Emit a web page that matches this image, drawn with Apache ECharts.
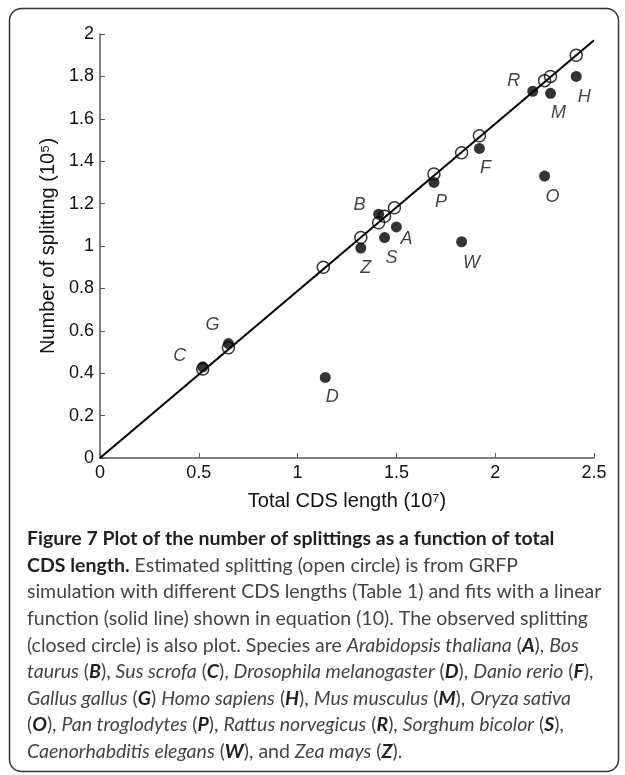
<!DOCTYPE html>
<html>
<head>
<meta charset="utf-8">
<script src="https://cdn.jsdelivr.net/npm/echarts@6/dist/echarts.min.js"></script>
<style>
html,body{margin:0;padding:0;background:#fff;}
#chart{width:625px;height:775px;}
</style>
</head>
<body>
<div id="chart"></div>
<script>
// ---- data ----
var speciesLetters = ['A','B','C','D','F','G','H','M','O','P','R','S','W','Z'];
var observedX = [1.50, 1.41, 0.52, 1.14, 1.92, 0.65, 2.41, 2.28, 2.25, 1.69, 2.19, 1.44, 1.83, 1.32];
var observedY = [1.09, 1.15, 0.43, 0.38, 1.46, 0.54, 1.80, 1.72, 1.33, 1.30, 1.73, 1.04, 1.02, 0.99];
var estimatedX = [0.52, 0.65, 1.13, 1.32, 1.41, 1.44, 1.49, 1.69, 1.83, 1.92, 2.25, 2.28, 2.41];
var estimatedY = [0.42, 0.52, 0.90, 1.04, 1.11, 1.14, 1.18, 1.34, 1.44, 1.52, 1.78, 1.80, 1.90];
var fitX = [0, 2.5];
var fitY = [0, 1.97];
var xTicks = [0, 0.5, 1, 1.5, 2, 2.5];
var yTicks = [0, 0.2, 0.4, 0.6, 0.8, 1, 1.2, 1.4, 1.6, 1.8, 2];

// label placement (style, px offsets from point)
var labelOffsets = {
  A:[10,12], B:[-19,-9], C:[-23,-11], D:[7,20], F:[6,20], G:[-16,-19], H:[8,21],
  M:[8,20], O:[8,21], P:[7,20], R:[-19,-10], S:[7,20], W:[10,21], Z:[5,20]
};

var chartFont = '"Liberation Sans", Arial, sans-serif';
var capFont = 'Lato, "Open Sans", sans-serif';

var obsData = speciesLetters.map(function(l, i){
  return {name:l, value:[observedX[i], observedY[i]], label:{offset:labelOffsets[l]}};
});
var estData = estimatedX.map(function(x, i){ return [x, estimatedY[i]]; });
var fitData = fitX.map(function(x, i){ return [x, fitY[i]]; });

var capLines = [
  '{b|Figure 7 Plot of the number of splittings as a function of total}',
  '{b|CDS length.} Estimated splitting (open circle) is from GRFP',
  'simulation with different CDS lengths (Table 1) and fits with a linear',
  'function (solid line) shown in equation (10). The observed splitting',
  '(closed circle) is also plot. Species are {i|Arabidopsis thaliana} ({bi|A}), {i|Bos}',
  '{i|taurus} ({bi|B}), {i|Sus scrofa} ({bi|C}), {i|Drosophila melanogaster} ({bi|D}), {i|Danio rerio} ({bi|F}),',
  '{i|Gallus gallus} ({bi|G}) {i|Homo sapiens} ({bi|H}), {i|Mus musculus} ({bi|M}), {i|Oryza sativa}',
  '({bi|O}), {i|Pan troglodytes} ({bi|P}), {i|Rattus norvegicus} ({bi|R}), {i|Sorghum bicolor} ({bi|S}),',
  '{i|Caenorhabditis elegans} ({bi|W}), and {i|Zea mays} ({bi|Z}).'
];
var capSize = 19.5;
var capRich = {
  b:{fontFamily:capFont, fontSize:capSize, fontWeight:'bold', fill:'#231f20'},
  i:{fontFamily:capFont, fontSize:capSize, fontStyle:'italic', fill:'#444'},
  bi:{fontFamily:capFont, fontSize:capSize, fontWeight:'bold', fontStyle:'italic', fill:'#231f20'}
};
var graphics = [{
  type:'rect', shape:{x:9.5, y:8.5, width:609, height:763, r:12},
  style:{fill:'none', stroke:'#333', lineWidth:1.5}, z:-1
}];
capLines.forEach(function(t, i){
  graphics.push({
    type:'text', left:27, top:529 + i*26.6,
    style:{text:t, rich:capRich, fontFamily:capFont, fontSize:capSize, fill:'#444'}
  });
});

var chart = echarts.init(document.getElementById('chart'), null, {renderer:'canvas'});
chart.setOption({
  animation:false,
  backgroundColor:'#fff',
  grid:{left:100, right:31, top:34, bottom:317, containLabel:false},
  xAxis:{
    type:'value', min:0, max:2.5, interval:0.5,
    name:'Total CDS length (10\u2077)', nameLocation:'middle', nameGap:33,
    nameTextStyle:{fontFamily:chartFont, fontSize:20, color:'#111'},
    axisLine:{lineStyle:{color:'#555', width:1.5}},
    axisTick:{inside:true, length:5, lineStyle:{color:'#555'}},
    axisLabel:{fontFamily:chartFont, fontSize:18, color:'#111', margin:6,
      formatter:function(v){ return xTicks.indexOf(v) >= 0 ? String(v) : ''; }},
    splitLine:{show:false}
  },
  yAxis:{
    type:'value', min:0, max:2, interval:0.2,
    name:'Number of splitting (10\u2075)', nameLocation:'middle', nameGap:38, nameRotate:90,
    nameTextStyle:{fontFamily:chartFont, fontSize:20, color:'#111'},
    axisLine:{show:true, lineStyle:{color:'#555', width:1.5}},
    axisTick:{show:true, inside:true, length:5, lineStyle:{color:'#555'}},
    axisLabel:{fontFamily:chartFont, fontSize:18, color:'#111', margin:6,
      formatter:function(v){ var r = Math.round(v*10)/10; return yTicks.indexOf(r) >= 0 ? String(r) : ''; }},
    splitLine:{show:false}
  },
  graphic:graphics,
  series:[
    {type:'line', data:fitData, symbol:'none', lineStyle:{color:'#000', width:2}, z:1},
    {type:'scatter', data:estData, symbol:'circle', symbolSize:12,
      itemStyle:{color:'rgba(255,255,255,0)', borderColor:'#000', borderWidth:1.5}, z:2},
    {type:'scatter', data:obsData, symbol:'circle', symbolSize:11,
      itemStyle:{color:'#000'}, z:3,
      label:{show:true, position:'inside', formatter:'{b}', fontFamily:chartFont,
        fontSize:18, fontStyle:'italic', color:'#111'}}
  ]
});
</script>
</body>
</html>
